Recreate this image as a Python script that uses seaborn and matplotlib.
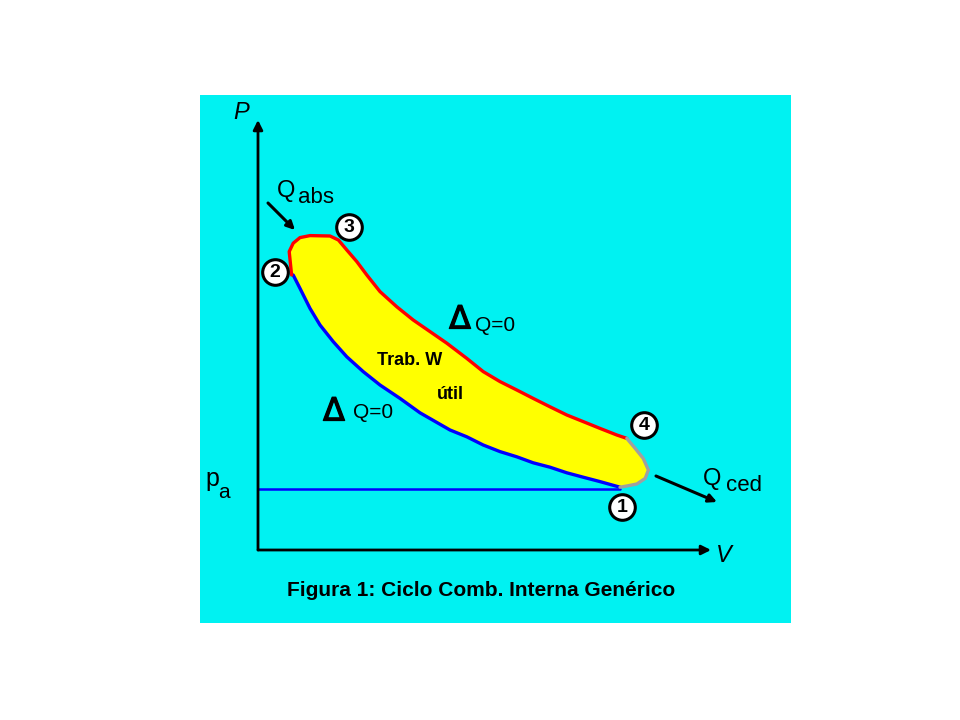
import matplotlib
matplotlib.use("Agg")
import matplotlib.pyplot as plt
import matplotlib.patheffects as pe
import seaborn as sns

sns.set_style("white")
plt.rcParams['font.family'] = ['Liberation Sans', 'DejaVu Sans']
plt.rcParams['text.color'] = 'black'

# ---- data (V, P in arbitrary units) ----
V_comp = [0.88, 1.05, 1.3, 1.55, 1.88, 2.22, 2.63, 3.05, 3.55, 4.05, 4.8, 5.22, 5.63,
          6.05, 6.47, 6.88, 7.3, 7.72, 8.13, 8.55, 9.05]
P_comp = [6.875, 6.54, 6.04, 5.625, 5.21, 4.83, 4.46, 4.125, 3.79, 3.43, 3.0, 2.83, 2.625,
          2.46, 2.33, 2.18, 2.07, 1.93, 1.82, 1.71, 1.57]
V_exp = [0.84, 0.78, 0.88, 1.05, 1.3, 1.8, 2.01, 2.22, 2.47, 2.72, 3.05, 3.47, 3.88, 4.3,
         4.72, 5.22, 5.63, 6.05, 6.47, 6.88, 7.3, 7.72, 8.13, 8.55, 8.97, 9.22]
P_exp = [6.875, 7.46, 7.67, 7.81, 7.86, 7.85, 7.75, 7.5, 7.21, 6.875, 6.46, 6.08, 5.75, 5.46,
         5.17, 4.79, 4.46, 4.21, 4.0, 3.79, 3.58, 3.375, 3.21, 3.04, 2.875, 2.79]
V_rej = [9.22, 9.43, 9.63, 9.76, 9.68, 9.47, 9.22, 9.05]
P_rej = [2.79, 2.54, 2.29, 2.0, 1.79, 1.65, 1.6, 1.57]
P_a = 1.52
V_axis_max = 11.325
P_axis_max = 10.75

state_labels = ["1", "2", "3", "4"]
state_V = [9.1, 0.425, 2.275, 9.65]
state_P = [1.075, 6.95, 8.075, 3.125]

fig = plt.figure(figsize=(9.6, 7.2), dpi=100, facecolor="white")
ax = fig.add_axes([200 / 960, 1 - 623 / 720, 591 / 960, 528 / 720])
ax.set_facecolor("#00F2F2")
ax.set_xlim(-1.45, 13.325)
ax.set_ylim(-1.825, 11.375)
ax.set_xticks([])
ax.set_yticks([])
for s in ax.spines.values():
    s.set_visible(False)

# filled cycle area
poly_V = V_exp + V_rej + V_comp[::-1]
poly_P = P_exp + P_rej + P_comp[::-1]
ax.fill(poly_V, poly_P, color="#FFFF00", zorder=1)

# curves
sns.lineplot(x=V_comp, y=P_comp, sort=False, estimator=None, color="#0000FF", lw=2.4,
             ax=ax, zorder=3)
sns.lineplot(x=V_exp, y=P_exp, sort=False, estimator=None, color="#FF0000", lw=2.4,
             ax=ax, zorder=3)
sns.lineplot(x=V_rej, y=P_rej, sort=False, estimator=None, color="#A0A0A0", lw=2.4,
             ax=ax, zorder=3)
ax.plot([0, V_comp[-1]], [P_a, P_a], color="#0000FF", lw=1.8, zorder=2)

# axes arrows
ax.annotate("", xy=(0, P_axis_max), xytext=(0, 0),
            arrowprops=dict(arrowstyle="-|>", color="black", lw=2, mutation_scale=14,
                            shrinkA=0, shrinkB=0), zorder=4)
ax.annotate("", xy=(V_axis_max, 0), xytext=(0, 0),
            arrowprops=dict(arrowstyle="-|>", color="black", lw=2, mutation_scale=14,
                            shrinkA=0, shrinkB=0), zorder=4)
ax.text(-0.425, 10.95, "P", fontsize=17, style="italic", ha="center", va="center")
ax.text(11.65, -0.15, "V", fontsize=17, style="italic", ha="center", va="center")
ax.text(-1.325, 1.6, "p", fontsize=18, ha="left", va="baseline")
ax.text(-1.0, 1.3, "a", fontsize=15, ha="left", va="baseline")

# heat arrows
ax.annotate("", xy=(0.925, 8.0), xytext=(0.25, 8.675),
            arrowprops=dict(arrowstyle="-|>", color="black", lw=2.2, mutation_scale=12,
                            shrinkA=0, shrinkB=0))
ax.annotate("", xy=(11.475, 1.2), xytext=(9.95, 1.85),
            arrowprops=dict(arrowstyle="-|>", color="black", lw=2.2, mutation_scale=12,
                            shrinkA=0, shrinkB=0))
ax.text(0.475, 8.825, "Q", fontsize=17, ha="left", va="baseline")
ax.text(1.0, 8.675, "abs", fontsize=16, ha="left", va="baseline")
ax.text(11.125, 1.625, "Q", fontsize=17, ha="left", va="baseline")
ax.text(11.7, 1.475, "ced", fontsize=16, ha="left", va="baseline")

# state circles
ax.scatter(state_V, state_P, s=340, facecolor="white", edgecolor="black", linewidth=2.2, zorder=5)
for lab, v, p in zip(state_labels, state_V, state_P):
    ax.text(v, p, lab, fontsize=14, fontweight="bold", ha="center", va="center", zorder=6)

# adiabatic labels
thick = [pe.withStroke(linewidth=0.9, foreground="black")]
ax.text(5.05, 5.75, "Δ", fontsize=23, family="DejaVu Sans", ha="center", va="center",
        path_effects=thick)
ax.text(5.42, 5.625, "Q=0", fontsize=15, ha="left", va="center")
ax.text(1.9, 3.45, "Δ", fontsize=23, family="DejaVu Sans", ha="center", va="center",
        path_effects=thick)
ax.text(2.37, 3.45, "Q=0", fontsize=15, ha="left", va="center")

ax.text(3.8, 4.75, "Trab. W", fontsize=13, fontweight="bold", ha="center", va="center")
ax.text(4.8, 3.9, "útil", fontsize=13, fontweight="bold", ha="center", va="center")

ax.text(5.575, -1.025, "Figura 1: Ciclo Comb. Interna Genérico", fontsize=15,
        fontweight="bold", ha="center", va="center")

fig.savefig("out.png", dpi=100, facecolor="white")
